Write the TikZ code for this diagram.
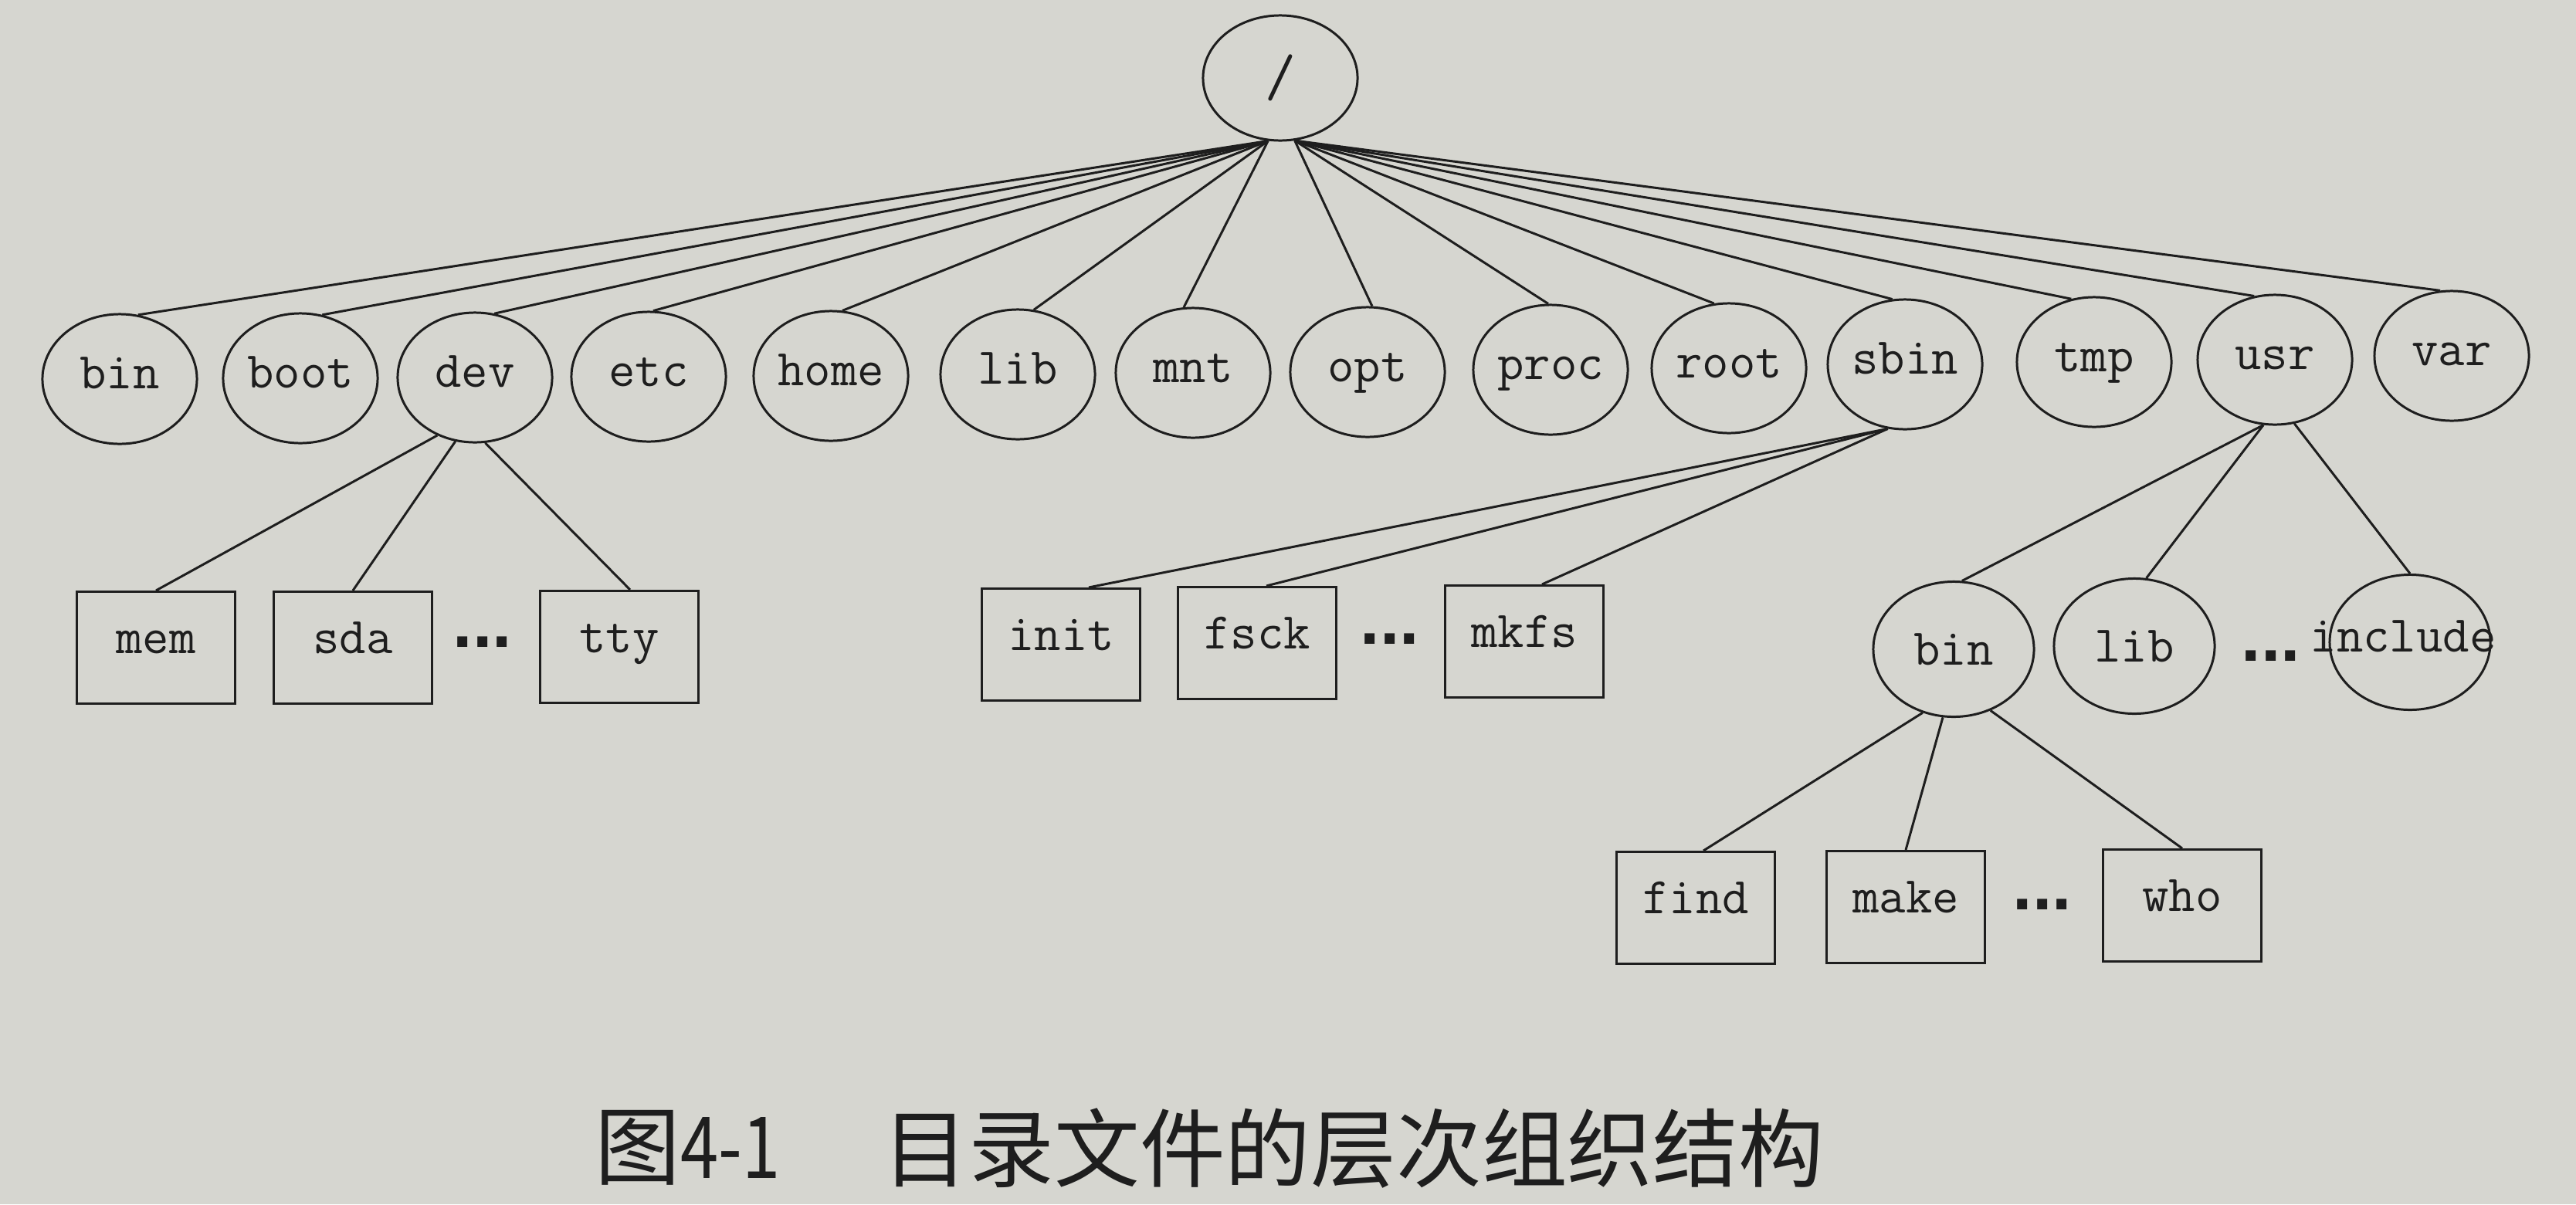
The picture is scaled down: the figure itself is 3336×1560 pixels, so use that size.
\documentclass[tikz,border=0pt]{standalone}
\usepackage{fontspec}
\newfontfamily\cjk{Noto Sans CJK SC}
\newfontfamily\cjknum[FakeStretch=0.8]{Noto Sans CJK SC}
\newfontfamily\dotfont{Liberation Sans}
\usetikzlibrary{shapes.geometric,calc}
\definecolor{paper}{RGB}{214,214,208}
\definecolor{ink}{RGB}{30,30,30}
\begin{document}
\begin{tikzpicture}[x=0.01cm,y=-0.01cm,
  lbl/.style={font=\ttfamily\fontsize{19}{19}\selectfont, text=ink},
  dirC/.style={ellipse, draw=ink, line width=0.85pt, minimum width=2cm, minimum height=1.68cm,
    inner sep=0pt, lbl, text height=11pt, text depth=4pt},
  subC/.style={dirC, minimum width=2.08cm, minimum height=1.75cm, text height=11.6pt, text depth=0pt},
  fileB/.style={rectangle, draw=ink, line width=0.85pt, minimum width=2.05cm, minimum height=1.45cm,
    inner sep=0pt, lbl, text height=9pt, text depth=4.6pt},
  dotsT/.style={font=\dotfont\bfseries\fontsize{26}{26}\selectfont, inner sep=0pt, text=ink},
  link/.style={draw=ink, line width=0.85pt},
  captxt/.style={font=\cjk\fontsize{31.5}{31.5}\selectfont, text=ink, inner sep=0pt, anchor=west}]
\fill[paper] (0,0) rectangle (3336,1560);
\useasboundingbox (0,0) rectangle (3336,1560);

% root
\node[dirC, minimum height=1.62cm, font=\ttfamily\fontsize{22}{22}\selectfont, text height=, text depth=] (top) at (1658,101) {/};

% level 1
\node[dirC] (bin)     at (155,491)  {bin};
\node[dirC] (boot)    at (389,490)  {boot};
\node[dirC] (dev)     at (615,489)  {dev};
\node[dirC] (etc)     at (840,488)  {etc};
\node[dirC] (home)    at (1076,487) {home};
\node[dirC] (lib)     at (1318,485) {lib};
\node[dirC] (mnt)     at (1545,483) {mnt};
\node[dirC] (opt)     at (1771,482) {opt};
\node[dirC] (proc)    at (2008,479) {proc};
\node[dirC] (rootdir) at (2239,477) {root};
\node[dirC] (sbin)    at (2467,472) {sbin};
\node[dirC] (tmp)     at (2712,469) {tmp};
\node[dirC] (usr)     at (2946,466) {usr};
\node[dirC] (var)     at (3175,461) {var};

% dev children
\node[fileB] (mem) at (202,839) {mem};
\node[fileB] (sda) at (457,839) {sda};
\node[dotsT] (devdots) at (625,832) {...};
\node[fileB] (tty) at (802,838) {tty};

% sbin children
\node[fileB] (init) at (1374,835) {init};
\node[fileB] (fsck) at (1628,833) {fsck};
\node[dotsT] (sbindots) at (1800,828) {...};
\node[fileB] (mkfs) at (1974,831) {mkfs};

% usr children
\node[subC] (ubin) at (2530,841) {bin};
\node[subC] (ulib) at (2764,837) {lib};
\node[dotsT] (usrdots) at (2941,850) {...};
\node[subC] (uinc) at (3121,832) {};
\node[lbl, inner sep=0pt] (inctext) at (3112,824) {include};

% usr/bin children
\node[fileB] (find) at (2196,1176) {find};
\node[fileB] (make) at (2468,1175) {make};
\node[dotsT] (bindots) at (2645,1172) {...};
\node[fileB] (who)  at (2826,1173) {who};

% root edges
\draw[link] (top.259) -- (bin.74);
\draw[link] (top.259) -- (boot.71);
\draw[link] (top.259) -- (dev.73);
\draw[link] (top.259) -- (etc.86);
\draw[link] (top.259) -- (home.80);
\draw[link] (top.259) -- (lib.76);
\draw[link] (top.259) -- (mnt.98);
\draw[link] (top.283) -- (opt.86);
\draw[link] (top.283) -- (proc.92);
\draw[link] (top.283) -- (rootdir.103);
\draw[link] (top.283) -- (sbin.101);
\draw[link] (top.283) -- (tmp.110);
\draw[link] (top.283) -- (usr.108);
\draw[link] (top.283) -- (var.100);

% dev edges
\draw[link] (dev.237) -- (mem.north);
\draw[link] (dev.253) -- (sda.north);
\draw[link] (dev.279) -- ($(tty.north)+(14,0)$);

% sbin edges
\draw[link] (sbin.255) -- ($(init.north)+(36,0)$);
\draw[link] (sbin.255) -- ($(fsck.north)+(12,0)$);
\draw[link] (sbin.255) -- ($(mkfs.north)+(23,0)$);

% usr edges
\draw[link] (usr.260) -- (ubin.83);
\draw[link] (usr.260) -- (ulib.80);
\draw[link] (usr.287) -- (uinc.north);

% usr/bin edges
\draw[link] (ubin.244) -- ($(find.north)+(10,0)$);
\draw[link] (ubin.261) -- (make.north);
\draw[link] (ubin.301) -- (who.north);

% caption
\node[captxt] (cap1) at (770,1487) {图{\cjknum\fontsize{31.5}{31.5}\selectfont 4-1}};
\node[captxt] (cap2) at (1143,1487) {目录文件的层次组织结构};
\end{tikzpicture}
\end{document}
